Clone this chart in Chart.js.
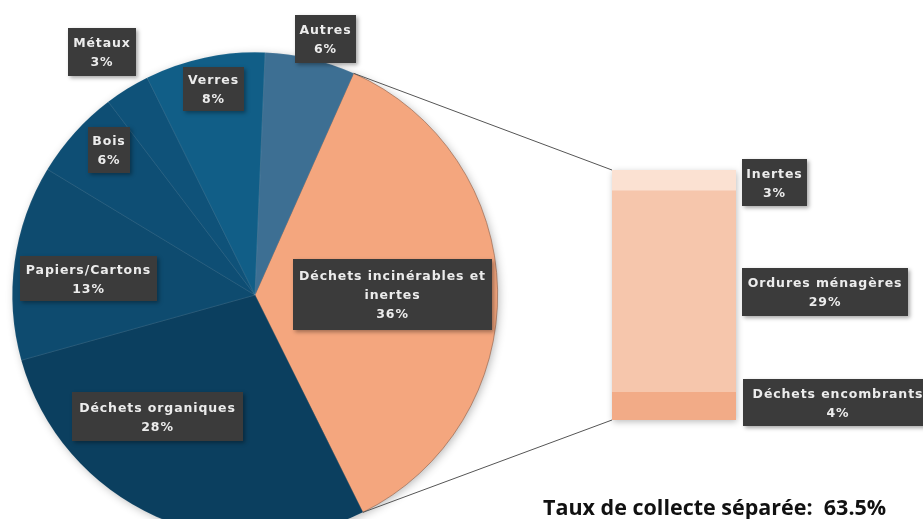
<!DOCTYPE html>
<html>
<head>
<meta charset="utf-8">
<script src="https://cdn.jsdelivr.net/npm/chart.js@4.4.1/dist/chart.umd.min.js"></script>
<style>
  html, body { margin: 0; padding: 0; background: #fff; }
  #stage { position: relative; width: 923px; height: 519px; overflow: hidden; }
  #pie { position: absolute; left: 0; top: 0; }
  #bar { position: absolute; left: 612px; top: 170px; filter: drop-shadow(1px 2px 3px rgba(0,0,0,0.25)); }
  .lbl {
    position: absolute; background: #3b3b3b; color: #ececec;
    font: bold 12.5px "DejaVu Sans", sans-serif; line-height: 19px; letter-spacing: 0.9px;
    text-align: center; box-shadow: 2px 2px 4px rgba(0,0,0,0.35);
    display: flex; flex-direction: column; justify-content: center; white-space: nowrap;
  }
  #note { position: absolute; left: 543px; top: 492px; font: bold 21.5px "Open Sans", sans-serif; color: #111; white-space: nowrap; }
</style>
</head>
<body>
<div id="stage">
  <canvas id="pie" width="923" height="560"></canvas>
  <canvas id="bar" width="124" height="250"></canvas>
  <div id="labels"></div>
  <div id="note">Taux de collecte séparée:&nbsp; 63.5%</div>
</div>
<script>
// pie: main categories (%)
const pieLabels = ['Déchets incinérables et inertes', 'Déchets organiques', 'Papiers/Cartons', 'Bois', 'Métaux', 'Verres', 'Autres'];
const pieValues = [36, 28, 13, 6, 3, 8, 6];
const pieColors = ['#F4A67E', '#0B3F5F', '#0E4B6F', '#0E4E74', '#0F5279', '#115E87', '#3D6F93'];

// bar: breakdown of the 36% slice, bottom to top
const barLabels = ['Déchets encombrants', 'Ordures ménagères', 'Inertes'];
const barValues = [4, 29, 3];
const barColors = ['#F2AB87', '#F6C6AC', '#FBE1D2'];

// label boxes: [text line 1, line 2, line 3, left, top, width, height]
const labelBoxes = [
  ['Métaux', '3%', '', 68, 28, 68, 48],
  ['Autres', '6%', '', 295, 15, 61, 48],
  ['Verres', '8%', '', 183, 67, 61, 44],
  ['Bois', '6%', '', 88, 127, 42, 46],
  ['Papiers/Cartons', '13%', '', 20, 256, 137, 45],
  ['Déchets organiques', '28%', '', 72, 392, 171, 49],
  ['Déchets incinérables et', 'inertes', '36%', 293, 259, 199, 71],
  ['Inertes', '3%', '', 742, 159, 65, 47],
  ['Ordures ménagères', '29%', '', 742, 268, 166, 48],
  ['Déchets encombrants', '4%', '', 743, 379, 190, 47]
];

const barChart = new Chart(document.getElementById('bar'), {
  type: 'bar',
  data: {
    labels: [''],
    datasets: barValues.map((v, i) => ({
      label: barLabels[i],
      data: [v],
      backgroundColor: barColors[i],
      borderWidth: 0,
      barPercentage: 1,
      categoryPercentage: 1
    }))
  },
  options: {
    responsive: false,
    animation: false,
    layout: { padding: 0 },
    plugins: { legend: { display: false }, tooltip: { enabled: false } },
    scales: {
      x: { stacked: true, display: false },
      y: { stacked: true, display: false, min: 0, max: 36 }
    }
  }
});

const pieShadow = {
  id: 'pieShadow',
  beforeDatasetsDraw(chart) {
    const a = chart.getDatasetMeta(0).data[0];
    const ctx = chart.ctx;
    ctx.save();
    ctx.shadowColor = 'rgba(0,0,0,0.3)';
    ctx.shadowBlur = 10;
    ctx.shadowOffsetX = 2;
    ctx.shadowOffsetY = 2;
    ctx.fillStyle = '#0B4061';
    ctx.beginPath();
    ctx.arc(a.x, a.y, a.outerRadius - 1, 0, Math.PI * 2);
    ctx.fill();
    ctx.restore();
  }
};

const connectors = {
  id: 'connectors',
  afterDraw(chart) {
    const a = chart.getDatasetMeta(0).data[0];
    const top = barChart.getDatasetMeta(barValues.length - 1).data[0];
    const bottom = barChart.getDatasetMeta(0).data[0];
    const ox = 612, oy = 170;
    const left = ox + top.x - top.width / 2;
    const ctx = chart.ctx;
    ctx.save();
    ctx.strokeStyle = '#555';
    ctx.lineWidth = 1;
    ctx.beginPath();
    ctx.moveTo(a.x + a.outerRadius * Math.cos(a.startAngle), a.y + a.outerRadius * Math.sin(a.startAngle));
    ctx.lineTo(left, oy + top.y);
    ctx.moveTo(a.x + a.outerRadius * Math.cos(a.endAngle), a.y + a.outerRadius * Math.sin(a.endAngle));
    ctx.lineTo(left, oy + bottom.base);
    ctx.stroke();
    ctx.restore();
  }
};

new Chart(document.getElementById('pie'), {
  type: 'pie',
  data: {
    labels: pieLabels,
    datasets: [{
      data: pieValues,
      backgroundColor: pieColors,
      borderColor: ['#9C6A52', 'rgba(255,255,255,0.12)', 'rgba(255,255,255,0.12)', 'rgba(255,255,255,0.12)', 'rgba(255,255,255,0.12)', 'rgba(255,255,255,0.12)', 'rgba(255,255,255,0.12)'],
      borderWidth: 0.7
    }]
  },
  options: {
    responsive: false,
    animation: false,
    rotation: 24,
    layout: { padding: { left: 12, top: 52, right: 425, bottom: 22 } },
    plugins: { legend: { display: false }, tooltip: { enabled: false } }
  },
  plugins: [pieShadow, connectors]
});

const holder = document.getElementById('labels');
labelBoxes.forEach(b => {
  const d = document.createElement('div');
  d.className = 'lbl';
  d.style.left = b[3] + 'px';
  d.style.top = b[4] + 'px';
  d.style.width = b[5] + 'px';
  d.style.height = b[6] + 'px';
  d.innerHTML = [b[0], b[1], b[2]].filter(Boolean).map(t => '<span>' + t + '</span>').join('');
  holder.appendChild(d);
});
</script>
</body>
</html>
